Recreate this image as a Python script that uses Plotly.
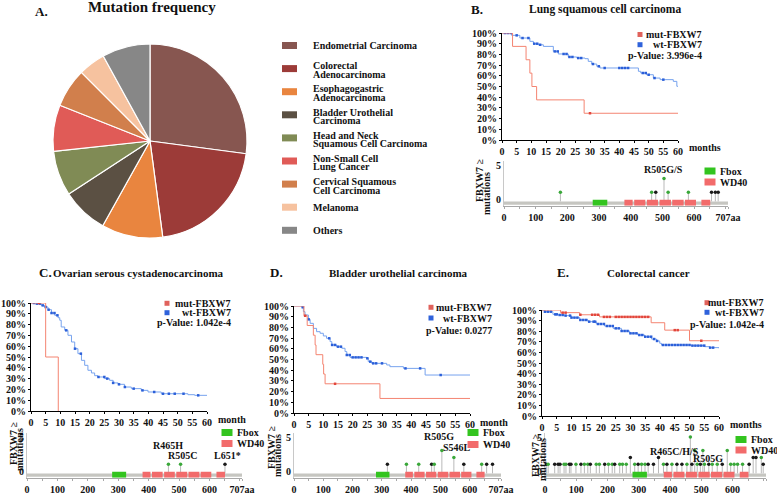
import plotly.graph_objects as go

W, H = 777, 494
FONT = "Liberation Serif"

# ---------------- DATA ----------------
PIE_LABELS = ["Endometrial Carcinoma", "Colorectal<br>Adenocarcinoma", "Esophagogastric<br>Adenocarcinoma",
              "Bladder Urothelial<br>Carcinoma", "Head and Neck<br>Squamous Cell Carcinoma",
              "Non-Small Cell<br>Lung Cancer", "Cervical Squamous<br>Cell Carcinoma", "Melanoma", "Others"]
PIE_VALUES = [27.1, 20.8, 10.2, 7.7, 7.5, 7.7, 6.5, 4.5, 8.0]
PIE_COLORS = ["#875650", "#9c3b38", "#e9853f", "#5b5043", "#808b55", "#e05b57", "#d17f4c", "#f6c29f", "#878787"]

MONTH_TICKS = [0, 5, 10, 15, 20, 25, 30, 35, 40, 45, 50, 55, 60]
PCT_TICKS = [0, 10, 20, 30, 40, 50, 60, 70, 80, 90, 100]
PCT_LABELS = ["0%", "10%", "20%", "30%", "40%", "50%", "60%", "70%", "80%", "90%", "100%"]
AA_TICKS = [0, 100, 200, 300, 400, 500, 600, 707]
AA_LABELS = ["0", "100", "200", "300", "400", "500", "600", "707aa"]

# Lung squamous (B)
B_mut_t = [0, 3.6, 8.2, 9.5, 10.2, 11.8, 28.0, 60]
B_mut_s = [100, 87.5, 75, 62.5, 50, 37.5, 25, 25]
B_mut_c = [30]
B_wt_t = [0, 3.3, 6.1, 9.5, 10.7, 12.4, 14.1, 17.5, 19.2, 22.6, 25.5, 28.3, 29.4, 30.6, 32.3, 33.4,
          46.5, 47.3, 49.3, 51.6, 53.9, 55.6, 58.4, 59.6, 60]
B_wt_s = [100, 97.8, 95.3, 92.2, 90, 89, 87.5, 82.8, 80.4, 77.6, 76.6, 76, 73.5, 71, 68.9, 67.3,
          64.2, 62.6, 61, 57.9, 56.4, 56.4, 54.8, 50.2, 50.2]
B_wt_c = [1, 2, 3, 5, 7, 9, 11, 12, 13, 18, 19, 21, 22, 23, 24, 26, 27, 31, 33, 35, 40, 41, 42, 43,
          48, 49, 50, 52, 55]

# Ovarian (C)
C_mut_t = [0, 5, 9.3]
C_mut_s = [100, 50, 0]
C_mut_c = [2.7]
C_wt_t = [0, 1.8, 3.5, 4.7, 5.8, 7.0, 8.1, 9.2, 9.8, 10.3, 11.5, 12.6, 13.8, 14.9, 16.0, 17.2, 18.3,
          19.4, 20.6, 21.7, 22.8, 25.1, 26.8, 28.0, 29.7, 31.9, 34.2, 37.6, 39.9, 44.4, 52.4, 53.5, 55.8, 60]
C_wt_s = [100, 99.4, 97.8, 96.3, 93.8, 90.7, 88.6, 86.4, 84, 77.8, 74.7, 70.1, 63.9, 57.7, 53.1, 46.9,
          42.3, 37.7, 35.2, 32.7, 31.5, 30, 28.4, 26, 24.7, 22.2, 20.7, 19.1, 17.6, 16, 16, 15.1, 14.5, 14.5]
C_wt_c = [1, 2, 3, 4, 5, 6, 7, 8, 9, 12, 15, 17, 23, 25, 26, 28, 30, 32, 35, 38, 42, 45, 47, 49, 52, 57]

# Bladder (D)
D_mut_t = [0, 3.4, 4.5, 6.6, 7.2, 7.5, 9.8, 10.1, 10.6, 29.3, 60]
D_mut_s = [100, 90.9, 81.8, 72.7, 63.6, 54.5, 45.5, 36.4, 27.3, 13.6, 13.6]
D_mut_c = [3.8, 14]
D_wt_t = [0, 2.6, 3.2, 3.75, 4.9, 5.5, 6.6, 7.7, 8.9, 10.0, 11.1, 12.3, 12.9, 14.5, 16.3, 17.4, 18.0,
          19.1, 24.8, 25.3, 26.5, 31.6, 32.7, 37.3, 44.7, 60]
D_wt_s = [100, 98.8, 94.7, 91.6, 87.5, 83.8, 79.1, 76, 74.5, 72, 69.8, 66.7, 63.6, 62, 60.5, 57.4, 54.2,
          52, 51.1, 48, 46.4, 44.9, 43.3, 41.7, 35.5, 35.5]
D_wt_c = [3, 5, 12, 13, 14, 15, 16, 18, 19, 20, 21, 22, 23, 25, 26, 27, 28, 30, 38, 43, 50]

# Colorectal (E)
E_mut_t = [0, 6.3, 12.8, 19.5, 37, 41.6, 50, 60]
E_mut_s = [100, 97.5, 95.5, 93.5, 88, 81, 71, 71]
E_mut_c = [7, 8, 13, 17, 18, 19, 21, 22, 23, 25, 26, 27, 28, 29, 30, 31, 32, 33, 34, 35, 36, 45, 46, 54]
E_wt_t = [0, 0.9, 3.7, 5.4, 7.7, 9.9, 12.8, 15.6, 18.4, 21.2, 24.1, 26.9, 29.7, 32.5, 34.8, 37.1, 38.8,
          39.9, 40.5, 50.6, 55.1, 56.8, 60]
E_wt_s = [100, 98.4, 95.9, 95.3, 94.7, 92.8, 90.6, 89, 86.8, 84.9, 82.7, 80.2, 78, 76.4, 74.8, 72.6, 70.8,
          68.6, 67, 66.4, 65.4, 64.5, 63.9]
E_wt_c = [1, 2, 3, 4.5, 5, 6, 7, 8, 9.5, 10, 11, 12, 13, 14, 15, 16, 17.5, 18, 19, 20, 21, 22, 23, 24, 25,
          26, 27, 28, 29, 30, 31, 32, 33, 34, 35, 36, 37, 38, 39, 41, 42, 43, 44, 45, 46, 47, 48, 49, 50,
          51, 52, 53, 54, 55, 57, 58]

# Protein domains
DOM_NAMES = ["Fbox", "WD40", "WD40", "WD40", "WD40", "WD40", "WD40", "WD40"]
DOM_START = [280, 380, 411, 451, 491, 531, 571, 623]
DOM_END = [326, 406, 446, 486, 527, 567, 606, 651]

# Mutations (position, count, colour class)
B_pos = [178, 466, 479, 505, 518, 582, 655, 667, 676]
B_cnt = [1, 1, 1, 3, 1, 1, 1, 1, 1]
B_col = ["g", "g", "k", "g", "g", "g", "k", "k", "k"]
B_lab = ["R505G/S"]

C_pos = [465, 505, 651]
C_cnt = [1, 1, 1]
C_col = ["g", "g", "k"]
C_lab = ["R465H", "R505C", "L651*"]

D_pos = [319, 384, 426, 470, 479, 505, 546, 580, 641, 658, 678]
D_cnt = [1, 1, 1, 1, 1, 3, 2, 1, 1, 1, 1]
D_col = ["k", "g", "g", "k", "g", "g", "g", "k", "g", "k", "k"]
D_lab = ["R505G", "S546L"]

E_pos = [4, 10, 31, 42, 48, 61, 67, 78, 83, 99, 115, 126, 137, 145, 164, 174, 191, 203, 215, 223, 239,
         248, 260, 273, 287, 298, 309, 320, 330, 347, 363, 379, 390, 406, 422, 438, 454, 465, 470, 479,
         487, 497, 505, 510, 524, 535, 551, 567, 583, 594, 605, 616, 632, 653, 666, 675, 692, 698]
E_cnt = [1, 1, 1, 1, 1, 1, 1, 1, 1, 1, 1, 1, 1, 1, 1, 1, 1, 1, 1, 1, 1,
         1, 1, 2, 1, 1, 1, 1, 1, 1, 2, 1, 1, 1, 1, 1, 1, 5, 1, 3,
         1, 1, 3, 1, 1, 1, 1, 1, 3, 1, 1, 1, 1, 1, 2, 2, 2, 1]
E_col = ["k", "g", "k", "k", "k", "g", "g", "k", "k", "g", "k", "g", "g", "k", "g", "g", "k", "g", "g", "k", "g",
         "g", "g", "k", "g", "k", "g", "g", "k", "k", "k", "g", "k", "g", "k", "k", "g", "g", "k", "g",
         "g", "k", "g", "g", "k", "g", "g", "k", "g", "g", "g", "g", "g", "k", "k", "k", "g", "k"]
E_lab = ["R465C/H/S", "R505G"]

# ---------------- STYLE ----------------
MUT_LINE, MUT_MARK, MUT_KEY = "#f48471", "#e2463c", "#e0625c"
WT_LINE, WT_MARK, WT_KEY = "#77a3ee", "#2b5fd9", "#2f62db"
GREEN, RED_BOX, GRAY_BAR = "#33c41f", "#f26b6b", "#c6c6c1"
DOT = {"g": "#3aa83a", "k": "#1a1a1a"}


def fx(p):
    return p / W


def fy(p):
    return 1 - p / H


def bold(size):
    return dict(family=FONT, size=size, color="#111111", weight="bold")


fig = go.Figure()
ann = []
shapes = []


def text(x, y, t, size=10, xa="center", ya="middle", angle=0):
    ann.append(dict(x=fx(x), y=fy(y), xref="paper", yref="paper", text=t, showarrow=False,
                    xanchor=xa, yanchor=ya, textangle=angle, font=bold(size)))


def step_at(ts, ss, t):
    v = ss[0]
    for ti, si in zip(ts, ss):
        if ti <= t:
            v = si
    return v


def ax(n, k):
    return k + ("" if n == 1 else str(n))


def axkey(n, k):
    return k + "axis" + ("" if n == 1 else str(n))


layout_axes = {}


def surv_panel(n, box, mt, ms, mc, wtt, wts, wtc, legend, month_lab):
    x0, x1, ytop, ybot = box
    xr, yr = ax(n, "x"), ax(n, "y")
    layout_axes[axkey(n, "x")] = dict(domain=[fx(x0), fx(x1)], range=[0, 60], anchor=yr, automargin=False,
                                      tickvals=MONTH_TICKS, showline=True, linecolor="black", linewidth=1,
                                      ticks="outside", ticklen=2, tickcolor="black", tickfont=bold(10),
                                      showgrid=False, zeroline=False, fixedrange=True)
    layout_axes[axkey(n, "y")] = dict(domain=[fy(ybot), fy(ytop)], range=[0, 100], anchor=xr, automargin=False,
                                      tickvals=PCT_TICKS, ticktext=PCT_LABELS, showline=True,
                                      linecolor="black", linewidth=1, ticks="outside", ticklen=2,
                                      tickcolor="black", tickfont=bold(10), showgrid=False,
                                      zeroline=False, fixedrange=True)
    fig.add_trace(go.Scatter(x=wtt, y=wts, mode="lines", line=dict(color=WT_LINE, width=1, shape="hv"),
                             xaxis=xr, yaxis=yr, showlegend=False, hoverinfo="skip"))
    fig.add_trace(go.Scatter(x=wtc, y=[step_at(wtt, wts, t) for t in wtc], mode="markers",
                             marker=dict(symbol="square", size=2.5, color=WT_MARK),
                             xaxis=xr, yaxis=yr, showlegend=False, hoverinfo="skip"))
    fig.add_trace(go.Scatter(x=mt, y=ms, mode="lines", line=dict(color=MUT_LINE, width=1, shape="hv"),
                             xaxis=xr, yaxis=yr, showlegend=False, hoverinfo="skip"))
    fig.add_trace(go.Scatter(x=mc, y=[step_at(mt, ms, t) for t in mc], mode="markers",
                             marker=dict(symbol="square", size=2.5, color=MUT_MARK),
                             xaxis=xr, yaxis=yr, showlegend=False, hoverinfo="skip"))
    sx, right, ym, yw, yp, pval = legend
    for yy, c in ((ym, MUT_KEY), (yw, WT_KEY)):
        shapes.append(dict(type="rect", xref="paper", yref="paper", x0=fx(sx - 2.5), x1=fx(sx + 2.5),
                           y0=fy(yy + 2.5), y1=fy(yy - 2.5), fillcolor=c, line=dict(width=0)))
    text(right, ym, "mut-FBXW7", 10, xa="right")
    text(right, yw, "wt-FBXW7", 10, xa="right")
    text(right, yp, "p-Value: " + pval, 10, xa="right")
    text(month_lab[0], month_lab[1], month_lab[2], 10)


def lolli_panel(n, box, pos, cnt, col, labels, label_pos, legend, ylab):
    x0, x1, y0px = box
    unit = 6.8
    lo, hi = -1.0, 5.6
    xr, yr = ax(n, "x"), ax(n, "y")
    layout_axes[axkey(n, "x")] = dict(domain=[fx(x0), fx(x1)], range=[0, 707], anchor=yr, automargin=False,
                                      tickvals=AA_TICKS, ticktext=AA_LABELS, showline=True,
                                      linecolor="#a8a8a8", linewidth=1, ticks="outside", ticklen=2,
                                      tickcolor="#a8a8a8", tickfont=bold(10), showgrid=False,
                                      zeroline=False, fixedrange=True,
                                      minor=dict(dtick=50, ticklen=2, tickcolor="#a8a8a8", ticks="outside"))
    layout_axes[axkey(n, "y")] = dict(domain=[fy(y0px - lo * unit), fy(y0px - hi * unit)], range=[lo, hi],
                                      anchor=xr, automargin=False, tickvals=[0, 5], showline=True,
                                      linecolor="#c8c8c8", linewidth=1, ticks="", tickfont=bold(10),
                                      showgrid=False, zeroline=False, fixedrange=True)
    shapes.append(dict(type="rect", xref=xr, yref=yr, x0=0, x1=707, y0=-0.85, y1=-0.35,
                       fillcolor=GRAY_BAR, line=dict(width=0), layer="below"))
    for name, s, e in zip(DOM_NAMES, DOM_START, DOM_END):
        shapes.append(dict(type="rect", xref=xr, yref=yr, x0=s, x1=e, y0=-1.0, y1=-0.1,
                           fillcolor=GREEN if name == "Fbox" else RED_BOX, line=dict(width=0)))
    sx, sy = [], []
    for p, c in zip(pos, cnt):
        sx += [p, p, None]
        sy += [-0.35, c, None]
    fig.add_trace(go.Scatter(x=sx, y=sy, mode="lines", line=dict(color="#b9b9b9", width=1),
                             xaxis=xr, yaxis=yr, showlegend=False, hoverinfo="skip"))
    fig.add_trace(go.Scatter(x=pos, y=cnt, mode="markers",
                             marker=dict(size=3.5, color=[DOT[c] for c in col]),
                             xaxis=xr, yaxis=yr, showlegend=False, hoverinfo="skip"))
    for lab, (lx, ly) in zip(labels, label_pos):
        ann.append(dict(x=lx, y=ly, xref=xr, yref=yr, text=lab, showarrow=False,
                        xanchor="center", yanchor="middle", font=bold(10)))
    lx, ly1, ly2 = legend
    for yy, c, nm in ((ly1, GREEN, "Fbox"), (ly2, RED_BOX, "WD40")):
        shapes.append(dict(type="rect", xref="paper", yref="paper", x0=fx(lx - 5.5), x1=fx(lx + 5.5),
                           y0=fy(yy + 3.5), y1=fy(yy - 3.5), fillcolor=c, line=dict(width=0)))
        text(lx + 8, yy, nm, 10, xa="left")
    (c1x, c1y), (c2x, c2y) = ylab
    text(c1x, c1y, "FBXW7 \u2265", 10, angle=-90)
    text(c2x, c2y, "mutations", 10, angle=-90)


# ---------------- PANEL A ----------------
fig.add_trace(go.Pie(labels=PIE_LABELS, values=PIE_VALUES, sort=False, direction="clockwise", rotation=0,
                     marker=dict(colors=PIE_COLORS, line=dict(color="white", width=1.2)),
                     textinfo="none", hoverinfo="skip", showlegend=False,
                     domain=dict(x=[fx(53), fx(247)], y=[fy(238), fy(44)])))
text(41, 11, "A.", 13)
text(152, 7, "Mutation frequency", 15)
leg_y0, leg_dy = 45.5, 23.1
for i, (lab, c) in enumerate(zip(PIE_LABELS, PIE_COLORS)):
    cy = leg_y0 + i * leg_dy
    shapes.append(dict(type="rect", xref="paper", yref="paper", x0=fx(282), x1=fx(297),
                       y0=fy(cy + 3.5), y1=fy(cy - 3.5), fillcolor=c, line=dict(width=0)))
    lines = lab.split("<br>")
    if len(lines) == 1:
        text(311, cy + 0.5, lines[0], 10, xa="left")
    else:
        text(311, cy - 2.7, lines[0], 10, xa="left")
        text(311, cy + 5.9, lines[1], 10, xa="left")

# ---------------- PANEL B ----------------
text(477, 10, "B.", 13)
text(605, 10, "Lung squamous cell carcinoma", 11.5)
surv_panel(1, (502, 678, 33, 140), B_mut_t, B_mut_s, B_mut_c, B_wt_t, B_wt_s, B_wt_c,
           (640, 704, 34.5, 44.7, 56, "3.996e-4"), (705, 147, "months"))
lolli_panel(2, (504, 728, 199), B_pos, B_cnt, B_col, B_lab, [(502, 4.4)],
            (710, 171, 182), ((479, 180), (486, 194)))

# ---------------- PANEL C ----------------
text(45, 272, "C.", 13)
text(138, 273, "Ovarian serous cystadenocarcinoma", 11)
surv_panel(3, (31, 207, 303, 411), C_mut_t, C_mut_s, C_mut_c, C_wt_t, C_wt_s, C_wt_c,
           (167, 233, 303.3, 312.7, 322.7, "1.042e-4"), (232, 419, "month"))
lolli_panel(4, (27, 242, 471), C_pos, C_cnt, C_col, C_lab, [(464, 3.8), (510, 2.35), (658, 2.35)],
            (227, 432.5, 443.5), ((13, 443), (19, 450)))

# ---------------- PANEL D ----------------
text(276, 272, "D.", 13)
text(398, 273, "Bladder urothelial carcinoma", 11)
surv_panel(5, (294, 470, 306, 413), D_mut_t, D_mut_s, D_mut_c, D_wt_t, D_wt_s, D_wt_c,
           (431, 494, 307.3, 318, 330, "0.0277"), (494, 422, "month"))
lolli_panel(6, (294, 501, 471), D_pos, D_cnt, D_col, D_lab, [(496, 5.1), (557, 3.4)],
            (473, 432.5, 444.5), ((271, 447), (277, 456)))

# ---------------- PANEL E ----------------
text(563, 272, "E.", 13)
text(648, 273, "Colorectal cancer", 11)
surv_panel(7, (542, 719, 310, 416), E_mut_t, E_mut_s, E_mut_c, E_wt_t, E_wt_s, E_wt_c,
           (707, 766, 302.7, 312.3, 324, "1.042e-4"), (746, 424, "months"))
lolli_panel(8, (545, 766, 471), E_pos, E_cnt, E_col, E_lab, [(413, 2.8), (521, 1.8)],
            (741, 439.5, 450), ((535, 455), (542, 460)))

fig.update_layout(width=W, height=H, margin=dict(l=0, r=0, t=0, b=0, autoexpand=False),
                  paper_bgcolor="white", plot_bgcolor="white", showlegend=False,
                  annotations=ann, shapes=shapes,
                  font=dict(family=FONT, color="#111111"), **layout_axes)
fig.write_html("out.html", config={"displayModeBar": False},
               post_script="document.body.style.margin='0';document.body.style.padding='0';"
                           "document.documentElement.style.overflow='hidden';")
